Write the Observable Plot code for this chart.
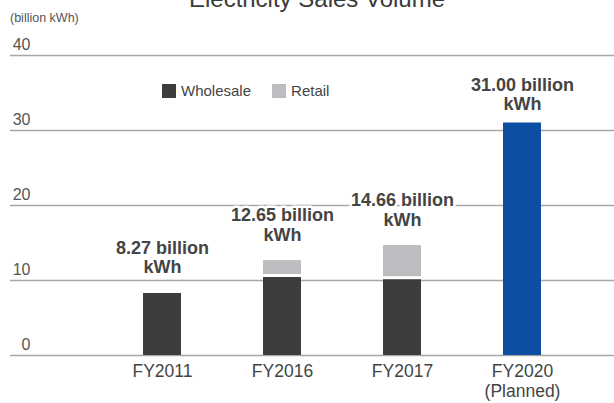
<!DOCTYPE html>
<html><head><meta charset="utf-8">
<script src="https://cdn.jsdelivr.net/npm/d3@7"></script>
<script src="https://cdn.jsdelivr.net/npm/@observablehq/plot@0.6"></script>
<style>
body{margin:0;background:#fff;font-family:"Liberation Sans",Arial,sans-serif;}
#wrap{position:relative;width:614px;height:403px;overflow:hidden;}
#wrap svg{position:absolute;top:0;left:0;}
#title{position:absolute;top:-15px;left:0;width:634px;text-align:center;font-size:24px;line-height:28px;color:#3a3a3a;}
#unit{position:absolute;top:11px;left:10px;font-size:12.5px;line-height:14px;color:#555;}
#legend{position:absolute;top:84px;left:162px;display:flex;align-items:center;font-size:15px;line-height:14px;color:#444;}
.sw{width:14px;height:14px;display:inline-block;margin-right:5px;}
.item{display:flex;align-items:center;margin-right:21px;}
</style></head><body>
<div id="wrap"></div>
<script>
const categories = ["FY2011", "FY2016", "FY2017", "FY2020"];
const xLabels = ["FY2011", "FY2016", "FY2017", "FY2020\n(Planned)"];
const wholesale = [8.27, 10.4, 10.1, 0];
const retail = [0, 2.25, 4.56, 0];
const planned = [0, 0, 0, 31.0];
const totals = [8.27, 12.65, 14.66, 31.00];
const totalLabels = ["8.27 billion\nkWh", "12.65 billion\nkWh", "14.66 billion\nkWh", "31.00 billion\nkWh"];
const yTicks = [0, 10, 20, 30, 40];
const seriesNames = ["Wholesale", "Retail"];
const seriesColors = ["#3d3d3d", "#bcbdc0"];
const plannedColor = "#0c4ea2";

const rows = categories.map((c, i) => ({
  cat: c, w: wholesale[i], r: retail[i], p: planned[i],
  total: totals[i], label: totalLabels[i], xl: xLabels[i], planned: planned[i] > 0
}));

const labelStyle = {x: "cat", y: "total", text: "label", lineAnchor: "bottom", fontSize: 18, fontWeight: "bold", fill: "#444", stroke: "white", strokeWidth: 5, lineHeight: 1.07};

const chart = Plot.plot({
  width: 614, height: 403,
  marginLeft: 10, marginRight: 0, marginTop: 0, marginBottom: 0,
  style: {fontFamily: "'Liberation Sans', Arial, sans-serif", background: "#fff"},
  x: {type: "band", domain: categories, range: [102, 582], paddingInner: 0.683, paddingOuter: 0.3415, axis: null},
  y: {domain: [0, 40], range: [355, 55], axis: null},
  marks: [
    Plot.ruleY(yTicks, {y: d => d, stroke: "#a8a8a8", strokeWidth: 1.5}),
    Plot.text(yTicks, {y: d => d, text: d => String(d), frameAnchor: "left", dx: 20, textAnchor: "end", lineAnchor: "bottom", dy: -6, fontSize: 16, fill: "#555"}),
    Plot.barY(rows.filter(d => d.w > 0), {x: "cat", y: "w", fill: seriesColors[0]}),
    Plot.barY(rows.filter(d => d.r > 0), {x: "cat", y1: "w", y2: d => d.w + d.r, fill: seriesColors[1], insetBottom: 3}),
    Plot.barY(rows.filter(d => d.p > 0), {x: "cat", y: "p", fill: plannedColor}),
    Plot.text(rows.filter(d => !d.planned), {...labelStyle, dy: -20}),
    Plot.text(rows.filter(d => d.planned), {...labelStyle, dy: -13}),
    Plot.text(rows, {x: "cat", y: d => 0, text: "xl", lineAnchor: "top", dy: 7, fontSize: 17.5, fill: "#444", lineHeight: 1.15})
  ]
});

const wrap = document.getElementById("wrap");
wrap.appendChild(chart);
const title = document.createElement("div"); title.id = "title"; title.textContent = "Electricity Sales Volume"; wrap.appendChild(title);
const unit = document.createElement("div"); unit.id = "unit"; unit.textContent = "(billion kWh)"; wrap.appendChild(unit);
const legend = document.createElement("div"); legend.id = "legend";
seriesNames.forEach((n, i) => {
  const it = document.createElement("span"); it.className = "item";
  const sw = document.createElement("span"); sw.className = "sw"; sw.style.background = seriesColors[i];
  it.appendChild(sw); it.appendChild(document.createTextNode(n)); legend.appendChild(it);
});
wrap.appendChild(legend);
</script>
</body></html>
